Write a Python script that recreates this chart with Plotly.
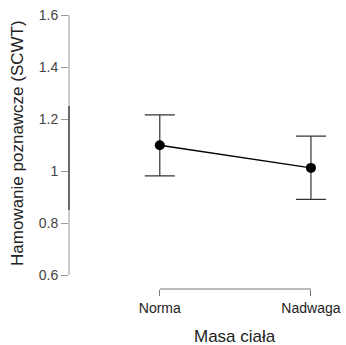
import plotly.graph_objects as go

categories = ["Norma", "Nadwaga"]
means = [1.099, 1.012]
upper = [1.216, 1.134]
lower = [0.981, 0.891]
y_ticks = [0.6, 0.8, 1.0, 1.2, 1.4, 1.6]
y_tick_labels = ["0.6", "0.8", "1", "1.2", "1.4", "1.6"]
x_title = "Masa ciała"
y_title = "Hamowanie poznawcze (SCWT)"

xs = list(range(len(categories)))
err_plus = [u - m for u, m in zip(upper, means)]
err_minus = [m - l for m, l in zip(means, lower)]

W, H = 346, 345
L, R, T, B = 69, 6, 10, 56
px_per_unit_y = 260.0
y_top = 1.6 + (15 - T) / px_per_unit_y
y_bot = 1.6 - (H - B - 15) / px_per_unit_y
px_per_unit_x = 154.0
x_left = 0 - (161.5 - L) / px_per_unit_x
x_right = 0 + (W - R - 161.5) / px_per_unit_x

font = "Liberation Sans, Arial, sans-serif"

fig = go.Figure()
fig.add_trace(go.Scatter(
    x=xs, y=means, mode="lines+markers",
    line=dict(color="black", width=1.5),
    marker=dict(color="black", size=10),
    error_y=dict(type="data", symmetric=False, array=err_plus, arrayminus=err_minus,
                 color="#333333", thickness=1.2, width=15),
    showlegend=False,
))

shapes = [
    dict(type="line", xref="paper", yref="y", x0=0, x1=0, y0=0.6, y1=1.6,
         line=dict(color="#999999", width=1)),
    dict(type="line", xref="paper", yref="y", x0=0, x1=0, y0=0.85, y1=1.25,
         line=dict(color="#333333", width=1.3)),
    dict(type="line", xref="x", yref="paper", x0=0, x1=1, y0=0, y1=0,
         line=dict(color="#777777", width=1)),
]

fig.update_layout(
    width=W, height=H,
    margin=dict(l=L, r=R, t=T, b=B),
    paper_bgcolor="white", plot_bgcolor="white",
    font=dict(family=font, color="#222222"),
    shapes=shapes,
    xaxis=dict(range=[x_left, x_right], tickmode="array", tickvals=xs, ticktext=categories,
               showgrid=False, zeroline=False, showline=False,
               ticks="outside", ticklen=6, tickcolor="#777777", tickwidth=1,
               tickfont=dict(size=14, family=font, color="#222222")),
    yaxis=dict(range=[y_bot, y_top], tickmode="array", tickvals=y_ticks, ticktext=y_tick_labels,
               showgrid=False, zeroline=False, showline=False,
               ticks="outside", ticklen=7, tickcolor="#999999", tickwidth=1,
               tickfont=dict(size=14, family=font, color="#444444")),
    annotations=[
        dict(text=x_title, xref="paper", yref="paper", x=(238 - L) / (W - L - R), y=-(336 - (H - B)) / (H - T - B),
             xanchor="center", yanchor="middle", showarrow=False,
             font=dict(size=17, family=font, color="#222222")),
        dict(text=y_title, xref="paper", yref="paper", x=-(L - 17) / (W - L - R), y=(H - B - 143) / (H - T - B),
             xanchor="center", yanchor="middle", textangle=-90, showarrow=False,
             font=dict(size=17, family=font, color="#222222")),
    ],
)

fig.write_html("out.html")
